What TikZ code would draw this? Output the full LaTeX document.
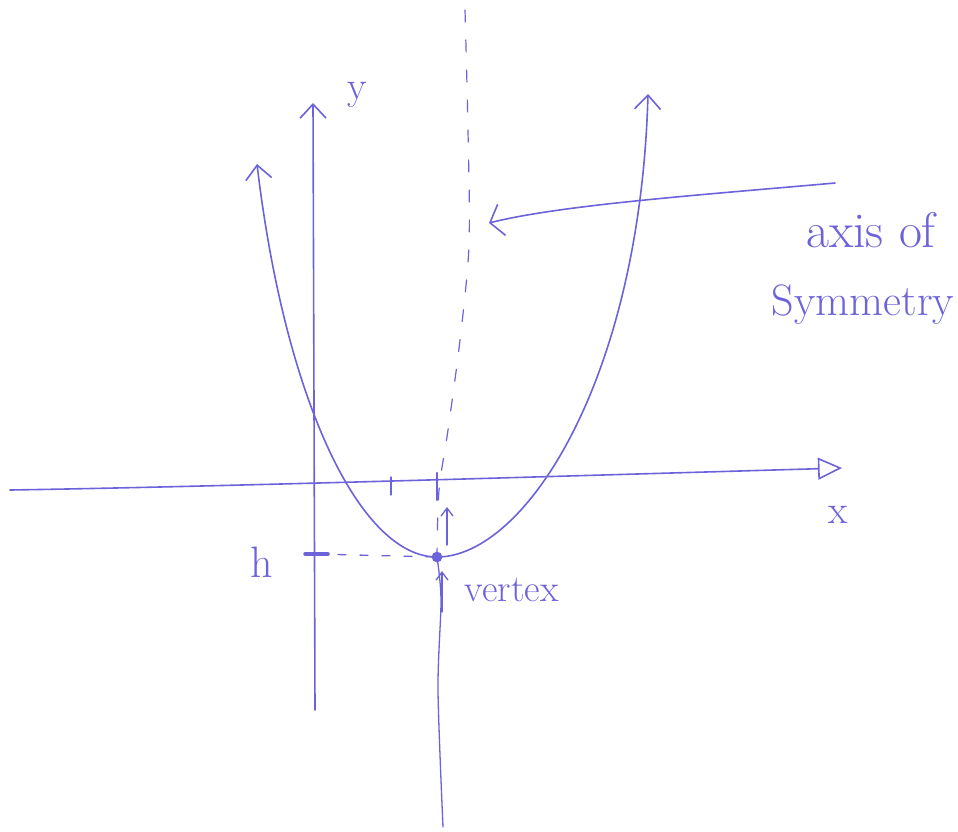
\documentclass[tikz,border=0pt]{standalone}
\usepackage{amsmath}
\usepackage{tikz}
\usetikzlibrary{arrows.meta,positioning}

\definecolor{pen}{RGB}{108,98,218}

\begin{document}
\begin{tikzpicture}[x=1pt, y=-1pt, line width=1.6pt, draw=pen, line cap=round,
    >={Straight Barb[length=14pt,width=26pt,line width=1.6pt]},
    every node/.style={text=pen, inner sep=0pt},
    hand/.style={font=\fontsize{40}{44}\selectfont},
    open/.style={-{Triangle[open,length=24pt,width=22pt,line width=1.6pt]}},
    dot/.style={circle, fill=pen, draw=pen, minimum size=9pt}]

    \useasboundingbox (0,0) rectangle (958,831);

    % axes
    \coordinate (xl) at (10,490);
    \coordinate (xr) at (842,468);
    \coordinate (yb) at (315,710);
    \coordinate (yt) at (313,103);
    \draw[open] (xl) .. controls (200,487) and (500,478) .. (xr);
    \draw[->] (yb) -- (yt);
    \node[hand] (ylab) at (357,95) {y};
    \node[hand] (xlab) at (838,515) {x};

    % ticks
    \draw[line width=1.2pt] (391,477) -- (391,495);
    \draw[line width=2.2pt] (437,473) -- (437,500);

    % parabola
    \coordinate (ptop1) at (257,164);
    \coordinate (pbot) at (437,557);
    \coordinate (ptop2) at (648,94);
    \draw[<-] (ptop1) .. controls (285,400) and (360,557) .. (pbot);
    \draw[->] (pbot) .. controls (525,557) and (640,380) .. (ptop2);

    % axis of symmetry
    \draw[dash pattern=on 12pt off 18pt, line width=1.2pt] plot[smooth] coordinates {(465,10)
        (468,130) (469,245) (460,340) (448,430) (439,490) (437,557)};
    \draw[line width=1.3pt] plot[smooth] coordinates {(437,557) (441,600) (438,690) (443,827)};

    % vertex and h
    \node[dot] (vtx) at (pbot) {};
    \coordinate (hmark) at (316,554);
    \draw[line width=3.5pt] (305,554) -- (328,554);
    \draw[dash pattern=on 8pt off 14pt, line width=1.3pt] (hmark) -- (vtx);
    \node[hand, font=\fontsize{44}{48}\selectfont] (hlab) at (262,562) {h};

    % arrows at the vertex
    \coordinate (upb) at (447,545);
    \coordinate (upt) at (447,507);
    \draw[->, line width=1.3pt, >={Straight Barb[length=8pt,width=12pt]}] (upb) -- (upt);
    \coordinate (vb) at (442,612);
    \coordinate (vt) at (442,571);
    \draw[->, line width=1.3pt, >={Straight Barb[length=8pt,width=12pt]}] (vb) -- (vt);
    \node[hand, font=\fontsize{38}{42}\selectfont, anchor=west] (vertlab) at (464,590) {vertex};

    % label for the axis of symmetry
    \node[hand, font=\fontsize{50}{54}\selectfont] (axislab) at (871,230) {axis of};
    \node[hand, font=\fontsize{44}{48}\selectfont] (symlab) at (863,305) {Symmetry};
    \coordinate (symstart) at (835,183);
    \coordinate (symtip) at (489,223);
    \draw[->, >={Straight Barb[length=12pt,width=32pt,line width=1.6pt]}]
        (symstart) .. controls (700,195) and (560,205) .. (symtip);
\end{tikzpicture}
\end{document}
